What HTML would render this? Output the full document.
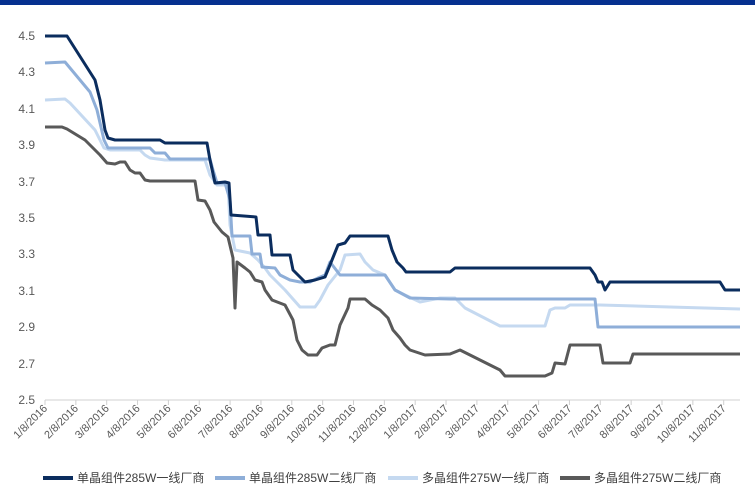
<!DOCTYPE html>
<html><head><meta charset="utf-8"><style>
body{margin:0;background:#fff;}
svg{display:block;font-family:"Liberation Sans","Noto Sans CJK SC",sans-serif;}
</style></head><body>
<svg width="755" height="493" viewBox="0 0 755 493" xmlns="http://www.w3.org/2000/svg">
<rect x="0" y="0" width="755" height="5" fill="#06308f"/>
<g font-size="12" fill="#595959" text-anchor="end">
<text x="35" y="40">4.5</text><text x="35" y="76">4.3</text><text x="35" y="113">4.1</text>
<text x="35" y="149">3.9</text><text x="35" y="186">3.7</text><text x="35" y="222">3.5</text>
<text x="35" y="258">3.3</text><text x="35" y="295">3.1</text><text x="35" y="331">2.9</text>
<text x="35" y="368">2.7</text><text x="35" y="404">2.5</text>
</g>
<line x1="45" y1="400" x2="740" y2="400" stroke="#d0d0d0" stroke-width="1"/>
<g stroke="#d0d0d0">
<path d="M45 400v5M75.85 400v5M106.7 400v5M137.55 400v5M168.4 400v5M199.25 400v5M230.1 400v5M260.95 400v5M291.8 400v5M322.65 400v5M353.5 400v5M384.35 400v5M415.2 400v5M446.05 400v5M476.9 400v5M507.75 400v5M538.6 400v5M569.45 400v5M600.3 400v5M631.15 400v5M662 400v5M692.85 400v5M723.7 400v5"/>
</g>
<g font-size="11" fill="#595959" text-anchor="end">
<text transform="translate(48,409) rotate(-45)">1/8/2016</text>
<text transform="translate(78.85,409) rotate(-45)">2/8/2016</text>
<text transform="translate(109.7,409) rotate(-45)">3/8/2016</text>
<text transform="translate(140.55,409) rotate(-45)">4/8/2016</text>
<text transform="translate(171.4,409) rotate(-45)">5/8/2016</text>
<text transform="translate(202.25,409) rotate(-45)">6/8/2016</text>
<text transform="translate(233.1,409) rotate(-45)">7/8/2016</text>
<text transform="translate(263.95,409) rotate(-45)">8/8/2016</text>
<text transform="translate(294.8,409) rotate(-45)">9/8/2016</text>
<text transform="translate(325.65,409) rotate(-45)">10/8/2016</text>
<text transform="translate(356.5,409) rotate(-45)">11/8/2016</text>
<text transform="translate(387.35,409) rotate(-45)">12/8/2016</text>
<text transform="translate(418.2,409) rotate(-45)">1/8/2017</text>
<text transform="translate(449.05,409) rotate(-45)">2/8/2017</text>
<text transform="translate(479.9,409) rotate(-45)">3/8/2017</text>
<text transform="translate(510.75,409) rotate(-45)">4/8/2017</text>
<text transform="translate(541.6,409) rotate(-45)">5/8/2017</text>
<text transform="translate(572.45,409) rotate(-45)">6/8/2017</text>
<text transform="translate(603.3,409) rotate(-45)">7/8/2017</text>
<text transform="translate(634.15,409) rotate(-45)">8/8/2017</text>
<text transform="translate(665,409) rotate(-45)">9/8/2017</text>
<text transform="translate(695.85,409) rotate(-45)">10/8/2017</text>
<text transform="translate(726.7,409) rotate(-45)">11/8/2017</text>
</g>
<g fill="none" stroke-linejoin="round" stroke-width="3">
<polyline stroke="#c5d9f0" points="45,100 65,99 70,103 95,130 104,148 110,150 140,150 145,155 150,158 165,160 205,160 210,175 217,185 228,185 230,225 235,250 250,253 258,260 265,268 270,275 285,290 300,307 315,307 320,300 328,285 340,270 345,255 360,254 365,262 373,270 385,275 395,290 405,295 420,302 440,298 455,298 465,308 500,326 545,326 550,310 555,308 565,308 570,305 600,305 740,309"/>
<polyline stroke="#8eaed8" points="45,63 65,62 70,68 90,92 97,110 104,140 108,148 150,148 155,153 165,153 170,159 210,159 213,170 217,183 225,183 230,200 232,236 250,236 252,254 260,254 262,267 275,268 280,275 290,280 300,282 310,282 318,278 325,275 330,262 340,275 385,275 395,290 410,298 450,299 595,299 598,327 740,327"/>
<polyline stroke="#595959" points="45,127 62,127 67,129 85,140 100,155 107,163 115,164 120,162 125,162 130,170 135,173 140,173 145,180 150,181 195,181 198,200 205,201 210,210 214,222 222,232 228,237 233,258 235,308 237,262 245,268 250,272 255,280 262,282 265,290 272,300 285,305 293,320 297,340 302,350 308,355 317,355 322,348 330,345 335,345 340,325 348,308 350,299 365,299 372,305 380,310 388,318 393,330 400,338 405,345 410,350 425,355 450,354 460,350 470,355 480,360 490,365 500,370 505,376 545,376 552,373 555,363 565,364 570,345 600,345 603,363 630,363 633,354 740,354"/>
<polyline stroke="#0b2d5e" points="45,36 67,36 95,80 100,100 105,130 108,138 115,140 160,140 165,143 207,143 210,160 215,183 225,182 229,183 231,215 256,217 258,235 270,235 272,255 290,255 293,270 305,282 315,280 325,277 330,265 338,245 345,243 350,236 388,236 392,250 397,262 403,268 406,272 450,272 455,268 590,268 595,275 598,282 602,282 605,290 610,282 720,282 725,290 740,290"/>
</g>
<g stroke-width="4">
<line x1="43" y1="478" x2="73" y2="478" stroke="#0b2d5e"/>
<line x1="215" y1="478" x2="245" y2="478" stroke="#8eaed8"/>
<line x1="388" y1="478" x2="418" y2="478" stroke="#c5d9f0"/>
<line x1="560" y1="478" x2="590" y2="478" stroke="#595959"/>
</g>
<g font-size="12" fill="#404040">
<text x="77" y="482">单晶组件285W一线厂商</text>
<text x="249" y="482">单晶组件285W二线厂商</text>
<text x="422" y="482">多晶组件275W一线厂商</text>
<text x="594" y="482">多晶组件275W二线厂商</text>
</g>
</svg>
</body></html>
